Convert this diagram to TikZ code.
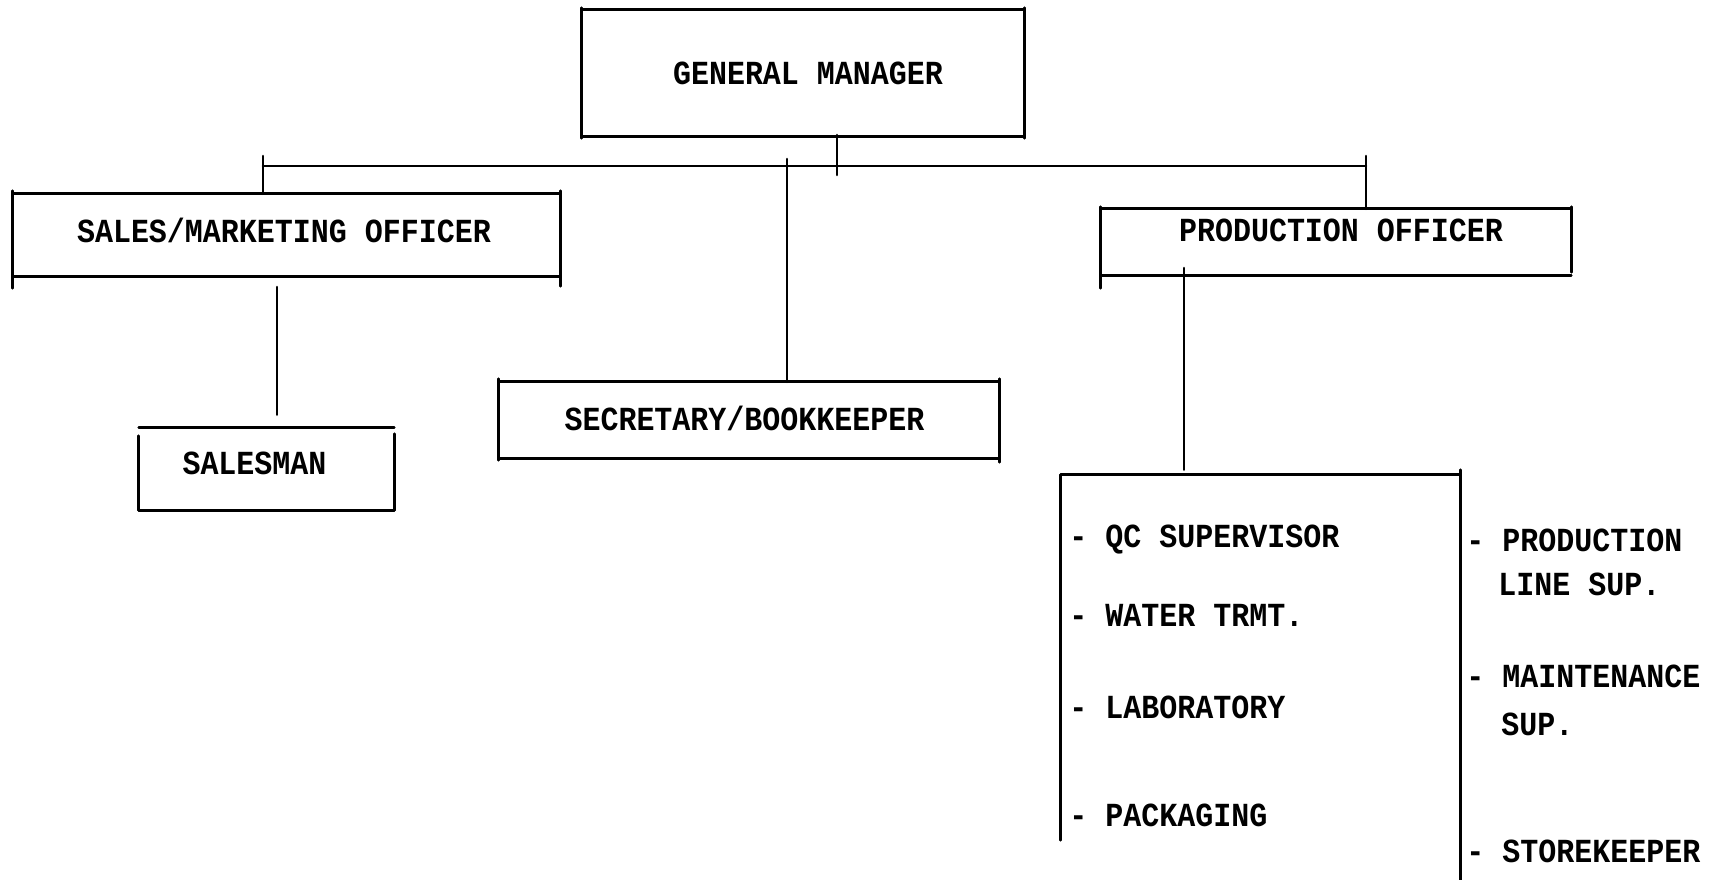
\documentclass[tikz,border=0pt]{standalone}
\usepackage{fontspec}
\newfontfamily\tw{Liberation Mono}[FakeStretch=0.89]
\begin{document}
\begin{tikzpicture}[x=1pt,y=-1pt,
  line width=2.6pt, line cap=round,
  boxarea/.style={draw=none,inner sep=0pt,rectangle},
  lbl/.style={inner sep=0pt,font=\tw\bfseries\fontsize{33.7}{40}\selectfont},
  item/.style={lbl,anchor=west}]
\useasboundingbox (0,0) rectangle (1716,879);
% box areas
\node[boxarea,minimum width=440pt,minimum height=124pt] (gm) at (803,73) {};
\node[boxarea,minimum width=545pt,minimum height=80pt] (sales) at (286.5,235) {};
\node[boxarea,minimum width=253pt,minimum height=80pt] (salesman) at (266.5,469) {};
\node[boxarea,minimum width=498pt,minimum height=74pt] (sec) at (749,420) {};
\node[boxarea,minimum width=468pt,minimum height=64pt] (prod) at (1336,242) {};
\node[boxarea,minimum width=397pt,minimum height=403pt] (staff) at (1260.5,677.5) {};
% GM box
\draw (gm.north west) -- (gm.north east);
\draw (gm.south west) -- (gm.south east);
\draw ([yshift=2pt]gm.north west) -- ([yshift=-2pt]gm.south west);
\draw ([yshift=2pt]gm.north east) -- ([yshift=-2pt]gm.south east);
% sales box
\draw (sales.north west) -- (sales.north east);
\draw (sales.south west) -- (sales.south east);
\draw ([yshift=3pt]sales.north west) -- ([yshift=-12pt]sales.south west);
\draw ([yshift=3pt]sales.north east) -- ([yshift=-10pt]sales.south east);
% salesman box
\draw (salesman.north west) -- (salesman.north east);
\draw (salesman.south west) -- (salesman.south east);
\draw ([yshift=-8pt]salesman.north west) -- (salesman.south west);
\draw ([yshift=-6pt]salesman.north east) -- (salesman.south east);
% secretary box
\draw (sec.north west) -- (sec.north east);
\draw (sec.south west) -- (sec.south east);
\draw ([yshift=3pt]sec.north west) -- ([yshift=-2pt]sec.south west);
\draw ([yshift=3pt]sec.north east) -- ([yshift=-4pt]sec.south east);
% production box
\draw (prod.north west) -- (prod.north east);
\draw (prod.south west) -- (prod.south east);
\draw ([yshift=2pt]prod.north west) -- ([yshift=-13pt]prod.south west);
\draw ([yshift=2pt]prod.north east) -- ([yshift=3pt]prod.south east);
% staff box (open bottom)
\draw (staff.north west) -- (staff.north east);
\draw (staff.north west) -- ([yshift=40pt]staff.south west);
\draw ([yshift=5pt]staff.north east) -- (staff.south east);
% bus and connectors
\coordinate (busL) at (263,166);
\coordinate (busR) at (1366,166);
\coordinate (gmstem) at (837,135);
\coordinate (secstem) at (787,159);
\draw (busL) -- (busR);
\draw (gmstem) -- ++(0,40);
\draw ([yshift=10pt]busL) -- (busL |- sales.north);
\draw ([yshift=10pt]busR) -- (busR |- prod.north);
\draw (secstem) -- (secstem |- sec.north);
\coordinate (salestem) at (277,287);
\draw (salestem) -- ([yshift=13pt]salestem |- salesman.north);
\coordinate (prodstem) at (1184,268);
\draw (prodstem) -- ([yshift=5pt]prodstem |- staff.north);
% labels
\node[lbl] (tgm) at (808,73) {GENERAL MANAGER};
\node[lbl] (tsales) at (284,230) {SALES/MARKETING OFFICER};
\node[lbl] (tsalesman) at (254.5,463) {SALESMAN};
\node[lbl] (tsec) at (744.5,418) {SECRETARY/BOOKKEEPER};
\node[lbl] (tprod) at (1341,230) {PRODUCTION OFFICER};
% staff items
\node[item] (qc) at (1068,540) {- QC SUPERVISOR};
\node[item] (water) at (1068,615) {- WATER TRMT.};
\node[item] (lab) at (1068,707) {- LABORATORY};
\node[item] (pack) at (1068,815) {- PACKAGING};
\node[item] (pl1) at (1465,540) {- PRODUCTION};
\node[item] (pl2) at (1497,584) {LINE SUP.};
\node[item] (mt1) at (1465,676) {- MAINTENANCE};
\node[item] (mt2) at (1500,724) {SUP.};
\node[item] (sk) at (1465,851) {- STOREKEEPER};
\end{tikzpicture}
\end{document}
